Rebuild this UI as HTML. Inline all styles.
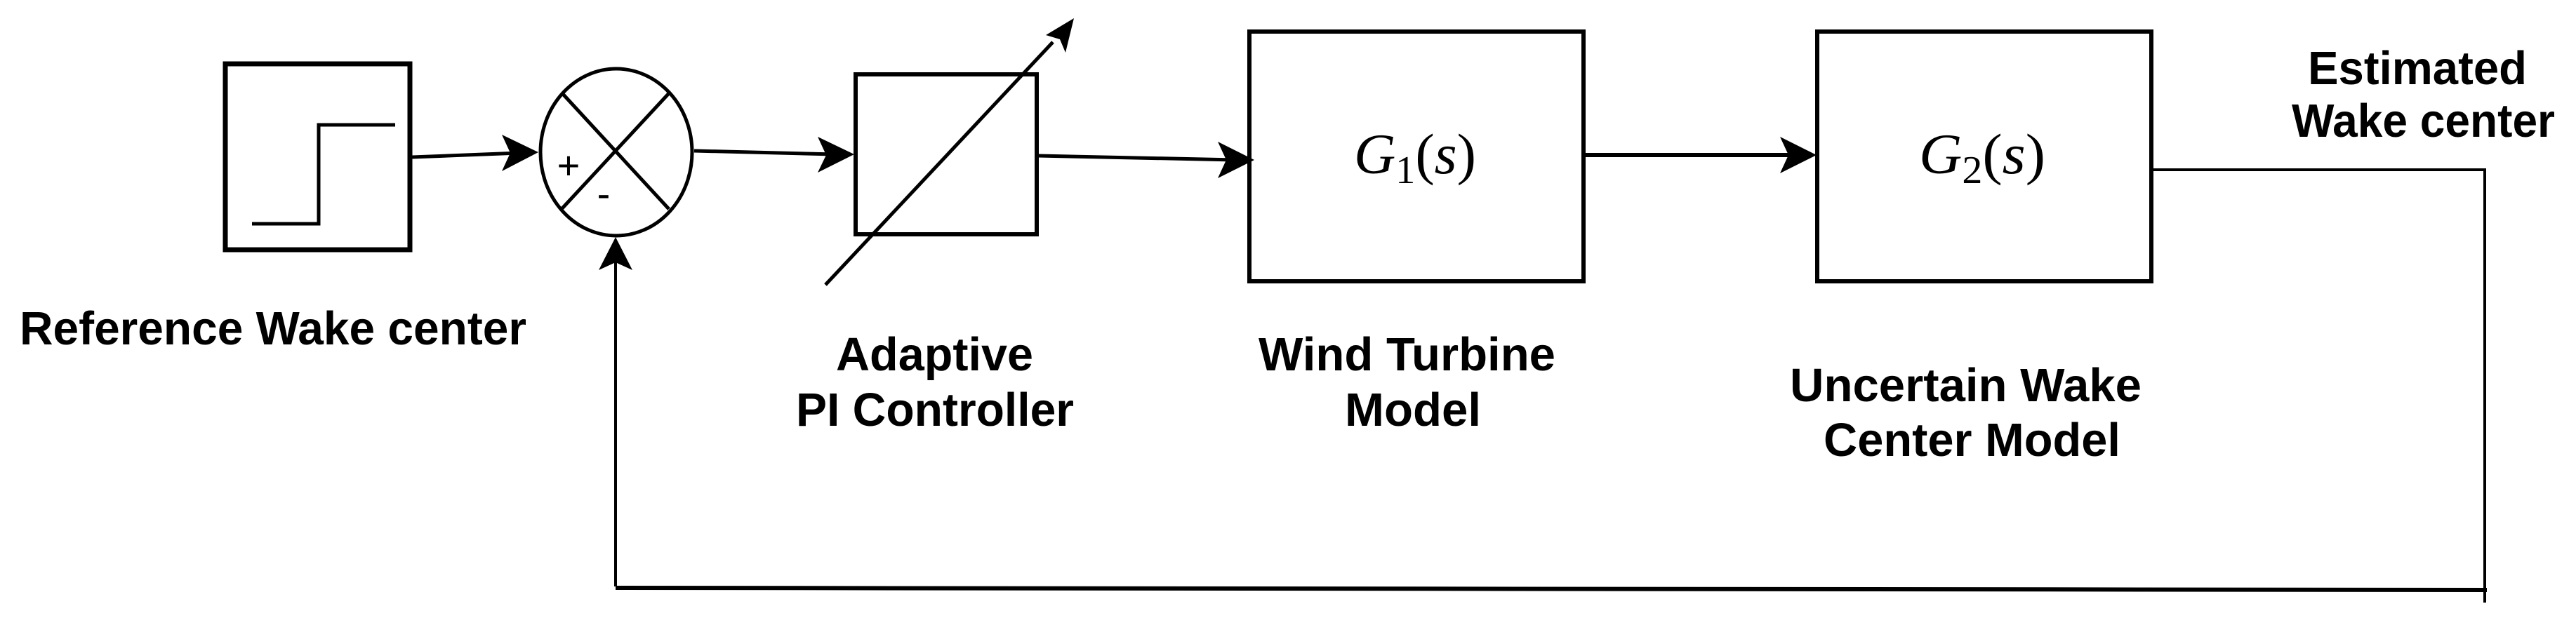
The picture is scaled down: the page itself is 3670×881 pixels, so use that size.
<!DOCTYPE html>
<html><head><meta charset="utf-8"><style>
html,body{margin:0;padding:0;background:#fff;}
svg{display:block;}
.l{font-family:"Liberation Sans",Arial,sans-serif;font-weight:bold;font-size:67px;fill:#000;}
.m{font-family:"Liberation Serif","Times New Roman",serif;font-size:82px;fill:#000;}
</style></head><body>
<svg width="3670" height="881" viewBox="0 0 3670 881" xmlns="http://www.w3.org/2000/svg">
<g fill="none" stroke="#000" stroke-width="6">
  <rect x="321" y="91" width="263" height="265" stroke-width="7"/>
  <polyline points="359,319 454,319 454,178 563,178" stroke-width="5"/>
  <ellipse cx="878" cy="217" rx="108" ry="119" stroke-width="5"/>
  <line x1="801" y1="133" x2="953" y2="298" stroke-width="5"/>
  <line x1="953" y1="133" x2="801" y2="297" stroke-width="5"/>
  <rect x="1219" y="106" width="258" height="228" stroke-width="6"/>
  <line x1="1176" y1="406" x2="1500" y2="60" stroke-width="5"/>
  <rect x="1780" y="45" width="476" height="356" stroke-width="6"/>
  <rect x="2589" y="45" width="476" height="356" stroke-width="6"/>
  <line x1="587" y1="224" x2="740" y2="218" stroke-width="5"/>
  <line x1="989" y1="215" x2="1190" y2="220" stroke-width="5"/>
  <line x1="1479" y1="222" x2="1760" y2="228" stroke-width="5"/>
  <line x1="2258" y1="221" x2="2560" y2="221" stroke-width="6"/>
  <polyline points="3067,242 3540,242 3540,859" stroke-width="4"/>
  <line x1="877" y1="838" x2="3543" y2="841" stroke-width="6"/>
  <line x1="877" y1="836" x2="877" y2="370" stroke-width="4"/>
</g>
<g fill="#000">
  <path d="M767,217 L715,192 L727,218 L715,244 Z"/>
  <path d="M1217,220 L1165,195 L1177,221 L1165,246 Z"/>
  <path d="M1787,228 L1735,202 L1747,228 L1735,254 Z"/>
  <path d="M2588,221 L2536,195 L2548,221 L2536,247 Z"/>
  <path d="M877,338 L853,385 L877,374 L901,385 Z"/>
  <path d="M1530,26 L1490,50 L1510,56 L1518,75 Z"/>
</g>
<text x="810" y="255" text-anchor="middle" style="font-family:'Liberation Sans',sans-serif;font-size:56px;">+</text>
<text x="860" y="295" text-anchor="middle" style="font-family:'Liberation Sans',sans-serif;font-size:56px;">-</text>
<text class="m" x="1929" y="247" textLength="174" lengthAdjust="spacingAndGlyphs"><tspan font-style="italic">G</tspan><tspan font-size="56" dy="14">1</tspan><tspan dy="-14">(</tspan><tspan font-style="italic">s</tspan>)</text>
<text class="m" x="2734" y="247" textLength="180" lengthAdjust="spacingAndGlyphs"><tspan font-style="italic">G</tspan><tspan font-size="56" dy="14">2</tspan><tspan dy="-14">(</tspan><tspan font-style="italic">s</tspan>)</text>
<g class="l">
  <text x="28" y="491" textLength="722" lengthAdjust="spacingAndGlyphs">Reference Wake center</text>
  <text x="1191" y="528" textLength="281" lengthAdjust="spacingAndGlyphs">Adaptive</text>
  <text x="1134" y="607" textLength="396" lengthAdjust="spacingAndGlyphs">PI Controller</text>
  <text x="1793" y="528" textLength="423" lengthAdjust="spacingAndGlyphs">Wind Turbine</text>
  <text x="1916" y="607" textLength="194" lengthAdjust="spacingAndGlyphs">Model</text>
  <text x="2550" y="572" textLength="501" lengthAdjust="spacingAndGlyphs">Uncertain Wake</text>
  <text x="2598" y="650" textLength="423" lengthAdjust="spacingAndGlyphs">Center Model</text>
  <text x="3288" y="120" textLength="312" lengthAdjust="spacingAndGlyphs">Estimated</text>
  <text x="3265" y="195" textLength="375" lengthAdjust="spacingAndGlyphs">Wake center</text>
</g>
</svg>
</body></html>
